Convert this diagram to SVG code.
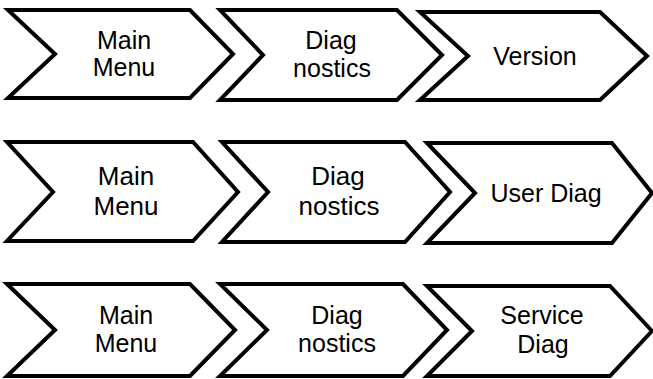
<svg xmlns="http://www.w3.org/2000/svg" width="653" height="379" viewBox="0 0 653 379">
<style>
.c{fill:#fff;stroke:#000;stroke-width:4;stroke-linejoin:miter}
.t{font-family:"Liberation Sans",Arial,sans-serif;font-size:25px;fill:#000;text-anchor:middle}
.b{font-size:26px}
</style>
<rect width="653" height="379" fill="#fff"/>
<g id="connectors"></g>
<g id="r1-main"><polygon class="c" points="8,10 190,10 233,54 190,98 8,98 55,54"/><text class="t" x="124" y="49">Main</text><text class="t" x="124" y="76">Menu</text></g>
<g id="r1-diag"><polygon class="c" points="220,10 397,10 442,55 397,100 220,100 263,55"/><text class="t" x="331" y="49">Diag</text><text class="t" x="332" y="77">nostics</text></g>
<g id="r1-version"><polygon class="c" points="420,12 600,12 647,56 600,100 420,100 468,56"/><text class="t" x="535" y="65">Version</text></g>
<g id="r2-main"><polygon class="c" points="7,142 193,142 238,192 193,241 7,241 53,192"/><text class="t b" x="126" y="185">Main</text><text class="t b" x="126" y="215">Menu</text></g>
<g id="r2-diag"><polygon class="c" points="222,142 405,142 450,192 405,242 222,242 268,192"/><text class="t b" x="338" y="185">Diag</text><text class="t b" x="339" y="215">nostics</text></g>
<g id="r2-user"><polygon class="c" points="427,143 612,143 652,193 612,243 427,243 475,193"/><text class="t" x="546" y="202">User Diag</text></g>
<g id="r3-main"><polygon class="c" points="7,284 190,284 235,330 190,376 7,376 55,330"/><text class="t" x="126" y="324">Main</text><text class="t" x="126" y="352">Menu</text></g>
<g id="r3-diag"><polygon class="c" points="220,284 403,284 447,330 403,376 220,376 267,330"/><text class="t" x="337" y="324">Diag</text><text class="t" x="337" y="352">nostics</text></g>
<g id="r3-service"><polygon class="c" points="427,286 610,286 652,331 610,376 427,376 472,331"/><text class="t" x="542" y="324">Service</text><text class="t" x="543" y="353">Diag</text></g>
</svg>
